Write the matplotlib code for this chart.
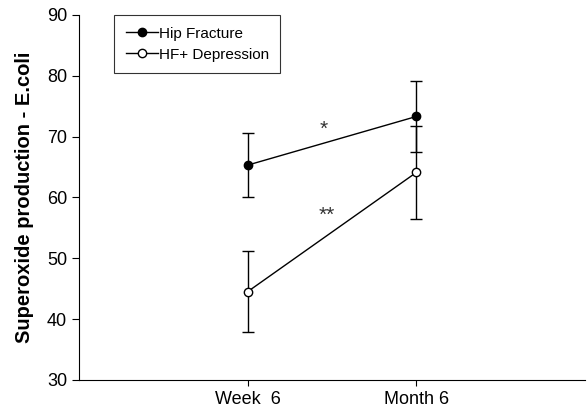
import matplotlib
matplotlib.use('Agg')
import matplotlib.pyplot as plt

plt.rcParams['font.family'] = ['Liberation Sans', 'DejaVu Sans']

# Дані
timepoints = ['Week  6', 'Month 6']
x_pos = [1, 2]
hip_mean = [65.3, 73.3]
hip_err = [5.3, 5.8]
dep_mean = [44.5, 64.1]
dep_err = [6.7, 7.6]

fig = plt.figure(figsize=(5.88, 4.13), dpi=100)
ax = fig.add_axes([0.134, 0.080, 0.861, 0.884])

ax.errorbar(x_pos, hip_mean, yerr=hip_err, color='black', lw=1, marker='o',
            ms=6, mfc='black', mec='black', capsize=4, elinewidth=1,
            capthick=1, label='Hip Fracture')
ax.errorbar(x_pos, dep_mean, yerr=dep_err, color='black', lw=1, marker='o',
            ms=6, mfc='white', mec='black', capsize=4, elinewidth=1,
            capthick=1, label='HF+ Depression')

# значущість
ax.text(1.45, 71.2, '*', fontsize=15, ha='center', va='center', color='#333333')
ax.text(1.47, 57.1, '**', fontsize=15, ha='center', va='center', color='#333333')

ax.set_xlim(0, 3)
ax.set_ylim(30, 90)
ax.set_xticks(x_pos)
ax.set_xticklabels(timepoints, fontsize=13)
ax.set_yticks(range(30, 91, 10))
ax.tick_params(axis='y', labelsize=13, direction='out', length=5)
ax.tick_params(axis='x', direction='out', length=4.5)
ax.set_ylabel('Superoxide production - E.coli', fontsize=14.5,
              fontweight='bold', labelpad=9)
ax.spines['top'].set_visible(False)
ax.spines['right'].set_visible(False)

handles, labels = ax.get_legend_handles_labels()
handles = [h[0] for h in handles]
leg = ax.legend(handles, labels, loc='upper left', bbox_to_anchor=(0.055, 1.02),
                fontsize=11, frameon=True, fancybox=False, edgecolor='black',
                handlelength=2.1, handletextpad=0.05, borderpad=0.75,
                labelspacing=0.45, markerscale=1.0)
leg.get_frame().set_linewidth(0.8)

fig.savefig('out.png', dpi=100)
